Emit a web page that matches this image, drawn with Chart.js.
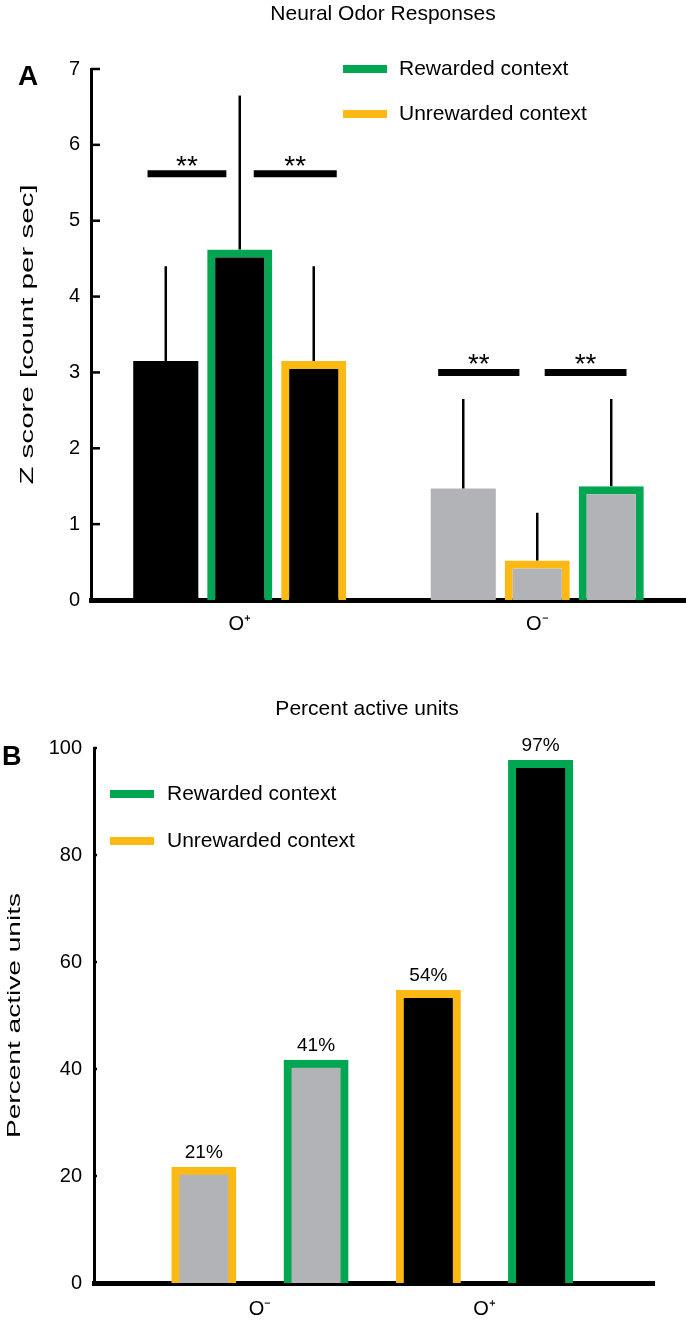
<!DOCTYPE html>
<html>
<head>
<meta charset="utf-8">
<script src="https://cdn.jsdelivr.net/npm/chart.js@4.4.0/dist/chart.umd.min.js"></script>
<style>
  html, body { margin: 0; padding: 0; background: #fff; }
  canvas { display: block; }
</style>
</head>
<body>
<canvas id="panelA" width="686" height="650"></canvas>
<canvas id="panelB" width="686" height="675"></canvas>
<script>
// ---- panel A : neural odor responses ----
var odorsA = ['O\u207A', 'O\u207B'];
var plainA = [3.15, 1.47];
var plainErrA = [4.4, 2.65];
var secondA = [4.62, 0.52];
var secondErrA = [6.65, 1.15];
var thirdA = [3.15, 1.5];
var thirdErrA = [4.4, 2.65];
var ticksA = [0, 1, 2, 3, 4, 5, 6, 7];
// significance bars: [from, to] in category units, level in z score
var sigA = [[-0.31, -0.045, 5.62], [0.047, 0.326, 5.62], [0.667, 0.94, 3.0], [1.025, 1.3, 3.0]];

// ---- panel B : percent active units ----
var odorsB = ['O\u207B', 'O\u207A'];
var unrewardedB = [21, 54];
var rewardedB = [41, 97];
var ticksB = [0, 20, 40, 60, 80, 100];

var green = '#00a651';
var yellow = '#fdb913';
var grey = '#b1b3b6';
var black = '#000000';
var fontName = '"Liberation Sans", Arial, sans-serif';

Chart.defaults.font.family = fontName;
Chart.defaults.color = '#000';

function drawLegend(ctx, x, y1, y2, textX) {
  ctx.save();
  ctx.fillStyle = green;
  ctx.fillRect(x, y1 - 4, 44, 8);
  ctx.fillStyle = yellow;
  ctx.fillRect(x, y2 - 4, 44, 8);
  ctx.fillStyle = '#000';
  ctx.font = '21px ' + fontName;
  ctx.textBaseline = 'middle';
  ctx.textAlign = 'left';
  ctx.fillText('Rewarded context', textX, y1);
  ctx.fillText('Unrewarded context', textX, y2);
  ctx.restore();
}

// axis title drawn rotated and a bit stretched along its length, like the figure
function drawYTitle(chart, text, x, stretch) {
  var ctx = chart.ctx, area = chart.chartArea;
  ctx.save();
  ctx.translate(x, (area.top + area.bottom) / 2);
  ctx.rotate(-Math.PI / 2);
  ctx.scale(stretch, 1);
  ctx.fillStyle = '#000';
  ctx.font = '18px ' + fontName;
  ctx.textAlign = 'center';
  ctx.textBaseline = 'middle';
  ctx.fillText(text, 0, 0);
  ctx.restore();
}

function innerTicks(chart, len) {
  var ctx = chart.ctx, ys = chart.scales.y, left = chart.chartArea.left;
  ctx.save();
  ctx.strokeStyle = '#000';
  ctx.lineWidth = 2.5;
  ys.ticks.forEach(function(t) {
    var py = ys.getPixelForValue(t.value);
    ctx.beginPath();
    ctx.moveTo(left, py);
    ctx.lineTo(left + len, py);
    ctx.stroke();
  });
  ctx.restore();
}

var decorA = {
  id: 'decorA',
  afterDatasetsDraw: function(chart) {
    var ctx = chart.ctx, xs = chart.scales.x, ys = chart.scales.y;
    ctx.save();
    // error bars
    ctx.strokeStyle = '#000';
    ctx.lineWidth = 2.5;
    chart.data.datasets.forEach(function(ds, i) {
      chart.getDatasetMeta(i).data.forEach(function(bar, j) {
        ctx.beginPath();
        ctx.moveTo(bar.x, bar.y);
        ctx.lineTo(bar.x, ys.getPixelForValue(ds.errTop[j]));
        ctx.stroke();
      });
    });
    // ** bars
    ctx.lineWidth = 7;
    ctx.font = '28px ' + fontName;
    ctx.textAlign = 'center';
    ctx.textBaseline = 'alphabetic';
    ctx.fillStyle = '#000';
    sigA.forEach(function(s) {
      var x0 = xs.getPixelForValue(s[0]), x1 = xs.getPixelForValue(s[1]);
      var py = ys.getPixelForValue(s[2]);
      ctx.beginPath();
      ctx.moveTo(x0, py);
      ctx.lineTo(x1, py);
      ctx.stroke();
      ctx.fillText('**', (x0 + x1) / 2, py + 1);
    });
    ctx.restore();
  },
  afterDraw: function(chart) {
    var ctx = chart.ctx;
    innerTicks(chart, 9);
    drawYTitle(chart, 'Z score [count per sec]', 28, 1.64);
    ctx.save();
    ctx.fillStyle = '#000';
    ctx.textBaseline = 'middle';
    ctx.textAlign = 'center';
    ctx.font = '21px ' + fontName;
    ctx.fillText('Neural Odor Responses', 383, 14);
    ctx.textAlign = 'left';
    ctx.textBaseline = 'alphabetic';
    ctx.font = 'bold 28px ' + fontName;
    ctx.fillText('A', 18, 85);
    ctx.restore();
    drawLegend(ctx, 343, 69, 114, 399);
  }
};

var decorB = {
  id: 'decorB',
  afterDatasetsDraw: function(chart) {
    var ctx = chart.ctx;
    ctx.save();
    ctx.fillStyle = '#000';
    ctx.font = '19px ' + fontName;
    ctx.textAlign = 'center';
    ctx.textBaseline = 'alphabetic';
    chart.data.datasets.forEach(function(ds, i) {
      chart.getDatasetMeta(i).data.forEach(function(bar, j) {
        ctx.fillText(ds.data[j].y + '%', bar.x, bar.y - 13);
      });
    });
    ctx.restore();
  },
  afterDraw: function(chart) {
    var ctx = chart.ctx;
    innerTicks(chart, 3);
    drawYTitle(chart, 'Percent active units', 15, 1.56);
    ctx.save();
    ctx.fillStyle = '#000';
    ctx.textBaseline = 'middle';
    ctx.textAlign = 'center';
    ctx.font = '21px ' + fontName;
    ctx.fillText('Percent active units', 367, 59);
    ctx.textAlign = 'left';
    ctx.textBaseline = 'alphabetic';
    ctx.font = 'bold 27px ' + fontName;
    ctx.fillText('B', 2, 115);
    ctx.restore();
    drawLegend(ctx, 110, 144, 191, 167);
  }
};

var fillA = [black, grey];

new Chart(document.getElementById('panelA'), {
  type: 'bar',
  data: {
    labels: odorsA,
    datasets: [
      { data: plainA, errTop: plainErrA, backgroundColor: fillA, borderWidth: 0 },
      { data: secondA, errTop: secondErrA, backgroundColor: fillA, borderColor: [green, yellow], borderWidth: 8 },
      { data: thirdA, errTop: thirdErrA, backgroundColor: fillA, borderColor: [yellow, green], borderWidth: 8 }
    ]
  },
  options: {
    responsive: false,
    animation: false,
    layout: { padding: { top: 69, right: 0, bottom: 0, left: 0 } },
    datasets: { bar: { categoryPercentage: 0.746, barPercentage: 0.88, inflateAmount: 0 } },
    plugins: { legend: { display: false }, tooltip: { enabled: false } },
    scales: {
      x: {
        z: 1,
        grid: { display: false, drawTicks: false },
        border: { display: true, color: '#000', width: 5 },
        ticks: { color: '#000', font: { size: 20 }, padding: 12 },
        afterFit: function(s) { s.height = 50; }
      },
      y: {
        z: 1,
        min: 0,
        max: 7,
        grid: { display: false, drawTicks: false },
        border: { display: true, color: '#000', width: 3 },
        afterBuildTicks: function(s) { s.ticks = ticksA.map(function(v) { return { value: v }; }); },
        ticks: { color: '#000', font: { size: 20 }, padding: 11 },
        afterFit: function(s) { s.width = 91; }
      }
    }
  },
  plugins: [decorA]
});

var fillB = [grey, black];

new Chart(document.getElementById('panelB'), {
  type: 'bar',
  data: {
    datasets: [
      { data: odorsB.map(function(c, i) { return { x: i + 1, y: unrewardedB[i] }; }), backgroundColor: fillB, borderColor: yellow, borderWidth: 8 },
      { data: odorsB.map(function(c, i) { return { x: i + 1, y: rewardedB[i] }; }), backgroundColor: fillB, borderColor: green, borderWidth: 8 }
    ]
  },
  options: {
    responsive: false,
    animation: false,
    layout: { padding: { top: 98, right: 32, bottom: 0, left: 0 } },
    // border sits centred on the bar outline, as in the figure
    datasets: { bar: { categoryPercentage: 1, barPercentage: 0.508, inflateAmount: 4 } },
    plugins: { legend: { display: false }, tooltip: { enabled: false } },
    scales: {
      x: {
        type: 'linear',
        offset: false,
        min: 0.261,
        max: 2.755,
        z: 1,
        grid: { display: false, drawTicks: false },
        border: { display: true, color: '#000', width: 5 },
        afterBuildTicks: function(s) { s.ticks = odorsB.map(function(c, i) { return { value: i + 1 }; }); },
        ticks: { color: '#000', font: { size: 20 }, padding: 14, callback: function(v) { return odorsB[v - 1]; } },
        afterFit: function(s) { s.height = 42; }
      },
      y: {
        z: 1,
        min: 0,
        max: 100,
        grid: { display: false, drawTicks: false },
        border: { display: true, color: '#000', width: 3 },
        afterBuildTicks: function(s) { s.ticks = ticksB.map(function(v) { return { value: v }; }); },
        ticks: { color: '#000', font: { size: 20 }, padding: 12 },
        afterFit: function(s) { s.width = 94; }
      }
    }
  },
  plugins: [decorB]
});
</script>
</body>
</html>
